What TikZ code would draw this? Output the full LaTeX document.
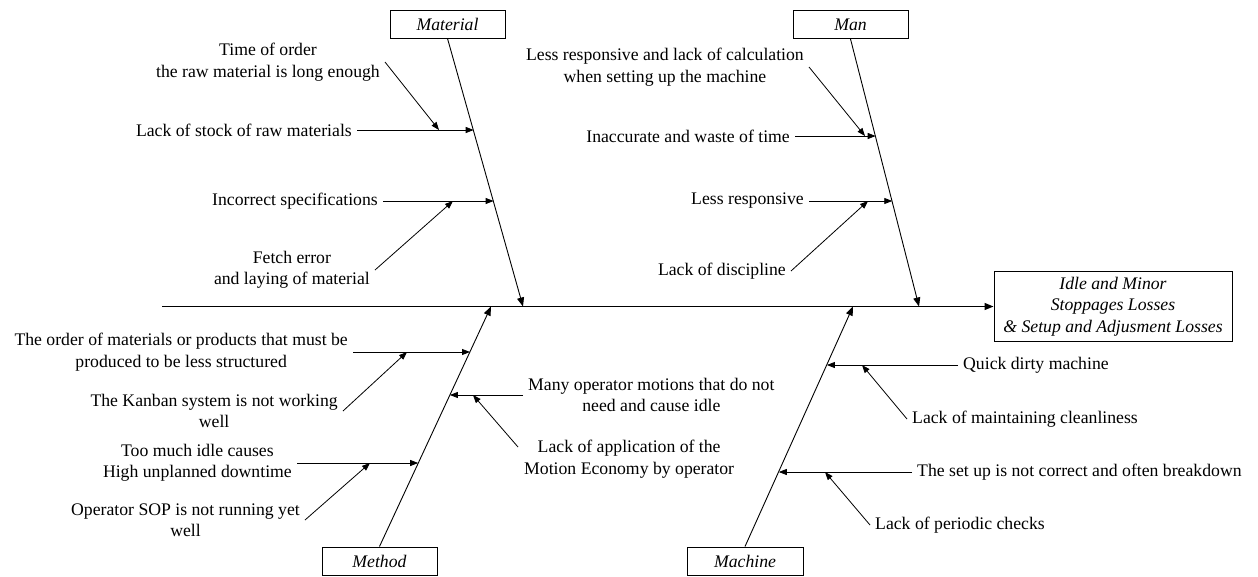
\documentclass[tikz,border=0pt]{standalone}
\usepackage{fontspec}
\setmainfont{Liberation Serif}
\usetikzlibrary{arrows.meta}
\begin{document}
\begin{tikzpicture}[x=1pt,y=-1pt,
  txtfont/.style={font=\fontsize{17.7}{21.5}\selectfont},
  lbl/.style={txtfont, inner xsep=5pt, inner ysep=2pt, align=center},
  catbox/.style={draw, line width=1pt, minimum width=115pt, minimum height=28pt, inner sep=0pt, font=\fontsize{17.7}{21.5}\selectfont\itshape},
  arr/.style={line width=0.8pt, -{Triangle[length=8pt,width=6pt]}},
  bone/.style={line width=0.9pt, -{Triangle[length=9pt,width=7pt]}},
  spine/.style={line width=1.3pt, -{Triangle[length=9pt,width=7pt]}}
]
\useasboundingbox (0,0) rectangle (1258,576);

% category boxes and effect
\node[catbox] (material) at (447.5,24) {Material};
\node[catbox] (man) at (850.5,24.5) {Man};
\node[catbox] (method) at (379.5,561) {Method};
\node[catbox, minimum width=116pt] (machine) at (745,561) {Machine};
\node[draw, line width=1pt, minimum width=238pt, minimum height=70pt, inner sep=0pt, align=center,
      font=\fontsize{17.7}{21.5}\selectfont\itshape] (effect) at (1113,306.5)
      {Idle and Minor\\Stoppages Losses\\\& Setup and Adjusment Losses};

% spine
\coordinate (spineL) at (162,306.5);
\draw[spine] (spineL) -- (effect.west);

% bones
\coordinate (matS) at (523,306.5);
\coordinate (manS) at (919,306.5);
\coordinate (metS) at (491,306.5);
\coordinate (macS) at (853,306.5);
\draw[bone] (material.south) -- (matS);
\draw[bone] (man.south) -- (manS);
\draw[bone] (method.north) -- (metS);
\draw[bone] (machine.north) -- (macS);

% points on bones
\coordinate (b1) at (473.7,130);
\coordinate (b2) at (493.6,201);
\coordinate (b3) at (875.7,136);
\coordinate (b4) at (892.3,201);
\coordinate (b5) at (470,352);
\coordinate (b6) at (449.9,395);
\coordinate (b7) at (418.2,463);
\coordinate (b8) at (826.9,365);
\coordinate (b9) at (778.8,472);

% points on sub-arrows
\coordinate (d1) at (439,130);
\coordinate (d2) at (453,201);
\coordinate (d3) at (865,136);
\coordinate (d4) at (868,201);
\coordinate (d5) at (407,352);
\coordinate (d6) at (370,463);
\coordinate (d7) at (473,395);
\coordinate (d8) at (862,365);
\coordinate (d9) at (825,472);

% labels
\node[lbl, anchor=east] (t1) at (385,62) {Time of order\\the raw material is long enough};
\node[lbl, anchor=east] (t2) at (357,130) {Lack of stock of raw materials};
\node[lbl, anchor=east] (t3) at (383,201) {Incorrect specifications};
\node[lbl, anchor=east] (t4) at (375,270) {Fetch error\\and laying of material};
\node[lbl, anchor=east] (t5) at (809,67) {Less responsive and lack of calculation\\when setting up the machine};
\node[lbl, anchor=east] (t6) at (795,136) {Inaccurate and waste of time};
\node[lbl, anchor=east] (t7) at (809,201) {Less responsive};
\node[lbl, anchor=east] (t8) at (791,271) {Lack of discipline};
\node[lbl, anchor=east] (t9) at (353,352) {The order of materials or products that must be\\produced to be less structured};
\node[lbl, anchor=east] (t10) at (343,411) {The Kanban system is not working\\well};
\node[lbl, anchor=east] (t11) at (297,463) {Too much idle causes\\High unplanned downtime};
\node[lbl, anchor=east] (t12) at (305,520) {Operator SOP is not running yet\\well};
\node[lbl, anchor=west] (t13) at (523,395) {Many operator motions that do not\\need and cause idle};
\node[lbl, anchor=west] (t14) at (519,459) {Lack of application of the\\Motion Economy by operator};
\node[lbl, anchor=west] (t15) at (958,365) {Quick dirty machine};
\node[lbl, anchor=west] (t16) at (907,419) {Lack of maintaining cleanliness};
\node[lbl, anchor=west] (t17) at (912,472) {The set up is not correct and often breakdown};
\node[lbl, anchor=west] (t18) at (870,525) {Lack of periodic checks};
\coordinate (s14) at (518,447);

% sub-cause arrows
\draw[arr] (t1.east) -- (d1);
\draw[arr] (t2.east) -- (b1);
\draw[arr] (t3.east) -- (b2);
\draw[arr] (t4.east) -- (d2);
\draw[arr] (t5.east) -- (d3);
\draw[arr] (t6.east) -- (b3);
\draw[arr] (t7.east) -- (b4);
\draw[arr] (t8.east) -- (d4);
\draw[arr] (t9.east) -- (b5);
\draw[arr] (t10.east) -- (d5);
\draw[arr] (t11.east) -- (b7);
\draw[arr] (t12.east) -- (d6);
\draw[arr] (t13.west) -- (b6);
\draw[arr] (s14) -- (d7);
\draw[arr] (t15.west) -- (b8);
\draw[arr] (t16.west) -- (d8);
\draw[arr] (t17.west) -- (b9);
\draw[arr] (t18.west) -- (d9);
\end{tikzpicture}
\end{document}
